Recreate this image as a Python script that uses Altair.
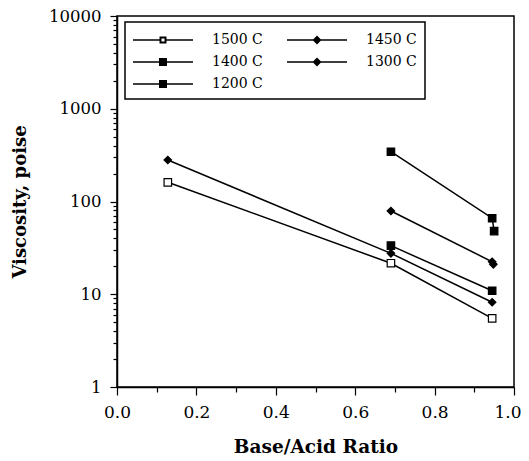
import altair as alt
import pandas as pd

# ---- data ----
series_names = ["1500 C", "1450 C", "1400 C", "1300 C", "1200 C"]
# legend fills column by column: left column 1500/1400/1200, right 1450/1300
legend_order = ["1500 C", "1400 C", "1200 C", "1450 C", "1300 C"]

ratio_1500 = [0.128, 0.69, 0.945]
visc_1500 = [161, 21.6, 5.5]
ratio_1450 = [0.128, 0.69, 0.945]
visc_1450 = [280, 27.6, 8.2]
ratio_1400 = [0.69, 0.945]
visc_1400 = [33.4, 10.9]
ratio_1300 = [0.69, 0.945, 0.948]
visc_1300 = [79, 22.4, 21.0]
ratio_1200 = [0.69, 0.945, 0.95]
visc_1200 = [344, 66, 48]

x_ticks = [0.0, 0.1, 0.2, 0.3, 0.4, 0.5, 0.6, 0.7, 0.8, 0.9, 1.0]
y_ticks = [1, 2, 3, 4, 5, 6, 7, 8, 9,
           10, 20, 30, 40, 50, 60, 70, 80, 90,
           100, 200, 300, 400, 500, 600, 700, 800, 900,
           1000, 2000, 3000, 4000, 5000, 6000, 7000, 8000, 9000,
           10000]

rows = []
for name, xs, ys in [
    ("1500 C", ratio_1500, visc_1500),
    ("1450 C", ratio_1450, visc_1450),
    ("1400 C", ratio_1400, visc_1400),
    ("1300 C", ratio_1300, visc_1300),
    ("1200 C", ratio_1200, visc_1200),
]:
    for xv, yv in zip(xs, ys):
        rows.append({"series": name, "ratio": xv, "visc": yv})
df = pd.DataFrame(rows)

# ---- styles ----
FONT = "DejaVu Serif"
marker_shape = {"1500 C": "square", "1450 C": "diamond", "1400 C": "square",
                "1300 C": "diamond", "1200 C": "square"}
marker_fill = {"1500 C": "white", "1450 C": "black", "1400 C": "black",
               "1300 C": "black", "1200 C": "black"}

# legend symbols: line + marker; symbol size 400 -> 1 unit = 10px
line_full = "M-1,-0.07H5V0.07H-1Z"
leg_open_sq = ("M-1,-0.07H1.65V0.07H-1Z M2.35,-0.07H5V0.07H2.35Z "
               "M1.65,-0.35H2.35V0.35H1.65Z M1.85,-0.15V0.15H2.15V-0.15Z")
leg_sq = line_full + " M1.6,-0.4H2.4V0.4H1.6Z"
leg_dia = line_full + " M2,-0.45L2.45,0L2,0.45L1.55,0Z"
leg_path = {"1500 C": leg_open_sq, "1450 C": leg_dia, "1400 C": leg_sq,
            "1300 C": leg_dia, "1200 C": leg_sq}

x_enc = alt.X(
    "ratio:Q",
    scale=alt.Scale(domain=[0, 1], nice=False, zero=False),
    axis=alt.Axis(
        values=x_ticks,
        labelExpr="round(datum.value*10) % 2 == 0 ? format(datum.value, '.1f') : ''",
        tickSize={"condition": {"test": "round(datum.value*10) % 2 == 0", "value": 8}, "value": 5},
        labelAlign={"condition": {"test": "datum.value >= 0.99", "value": "right"}, "value": "center"},
        labelOffset={"condition": {"test": "datum.value >= 0.99", "value": 7}, "value": 0},
        labelPadding=9,
        labelFontSize=17,
        labelFont=FONT,
        labelOverlap=False,
        labelFlush=False,
        title="Base/Acid  Ratio",
        titleFont=FONT,
        titleFontSize=18.5,
        titleFontWeight="bold",
        titlePadding=17,
        grid=False,
    ),
)
y_enc = alt.Y(
    "visc:Q",
    scale=alt.Scale(type="log", domain=[1, 10000], nice=False),
    axis=alt.Axis(
        values=y_ticks,
        labelExpr="indexof([1,10,100,1000,10000], datum.value) >= 0 ? format(datum.value, 'd') : ''",
        tickSize={"condition": {"test": "indexof([1,10,100,1000,10000], datum.value) >= 0", "value": 7}, "value": 4},
        labelPadding=9,
        labelFontSize=16.5,
        labelFont=FONT,
        labelOverlap=False,
        labelFlush=False,
        title="Viscosity,  poise",
        titleFont=FONT,
        titleFontSize=18,
        titleFontWeight="bold",
        titlePadding=19,
        grid=False,
    ),
)

base = alt.Chart(df)

lines = base.mark_line(color="black", strokeWidth=1.5).encode(
    x=x_enc, y=y_enc, detail="series:N", order="ratio:Q"
)

points = base.mark_point(filled=True, opacity=1, size=56, stroke="black", strokeWidth=1.2).encode(
    x=x_enc,
    y=y_enc,
    shape=alt.Shape("series:N",
                    scale=alt.Scale(domain=series_names,
                                    range=[marker_shape[s] for s in series_names]),
                    legend=None),
    fill=alt.Fill("series:N",
                  scale=alt.Scale(domain=series_names,
                                  range=[marker_fill[s] for s in series_names]),
                  legend=None),
)

legend_layer = base.mark_point(filled=True, opacity=1, color="black", strokeWidth=0).encode(
    x=x_enc,
    y=y_enc,
    shape=alt.Shape(
        "series:N",
        scale=alt.Scale(domain=legend_order, range=[leg_path[s] for s in legend_order]),
        legend=alt.Legend(
            title=None,
            orient="none",
            legendX=8,
            legendY=6,
            columns=2,
            symbolSize=400,
            symbolFillColor="black",
            symbolStrokeColor="black",
            symbolStrokeWidth=0,
            symbolOpacity=1,
            labelFont=FONT,
            labelFontSize=14,
            labelColor="black",
            labelOffset=59,
            columnPadding=24,
            rowPadding=5,
            padding=8,
            strokeColor="black",
            fillColor="white",
        ),
    ),
).transform_filter("datum.ratio < -1")

chart = (
    alt.layer(lines, points, legend_layer)
    .resolve_scale(shape="independent", fill="independent")
    .properties(
        width=397,
        height=371,
        autosize=alt.AutoSizeParams(type="none"),
        padding={"left": 109, "top": 8, "right": 7, "bottom": 73},
    )
    .configure_view(stroke="black", strokeWidth=1.5)
    .configure_axis(
        domainColor="black",
        domainWidth=1.5,
        tickColor="black",
        tickWidth=1.2,
        labelColor="black",
        titleColor="black",
    )
    .configure_legend(strokeWidth=1.5)
)

chart.save("out.html", embed_options={"renderer": "svg", "actions": False})
